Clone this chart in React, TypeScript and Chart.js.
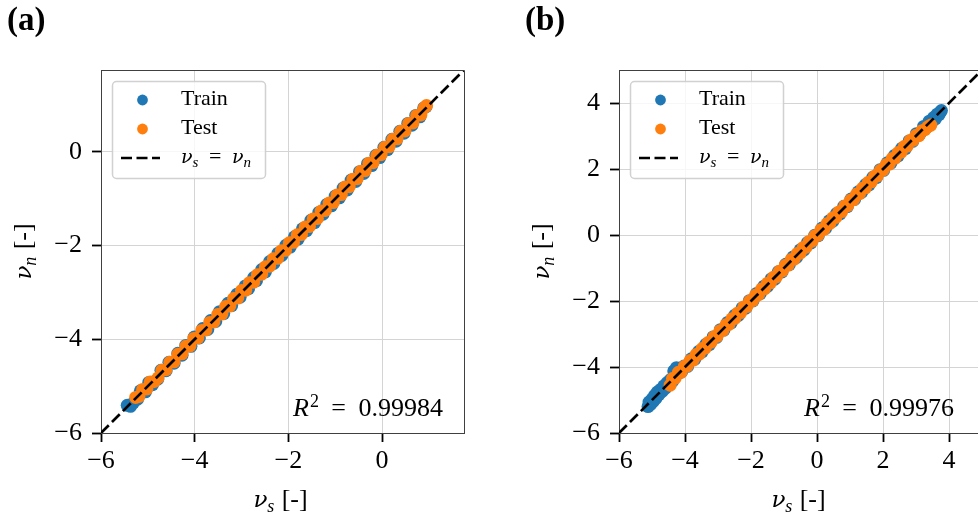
import React, { useEffect, useRef } from "react";
import { Chart, registerables } from "chart.js";

Chart.register(...registerables);

const FONT = '"Liberation Serif", "Times New Roman", serif';
const GREEK_FONT = '"DejaVu Serif", "Liberation Serif", serif';

// ---------------- data: panel (a) ----------------
const trainA: [number, number][] = [
  [-5.44, -5.41], [-5.37, -5.43], [-5.31, -5.36], [-5.22, -5.28], [-5.16, -5.10], [-5.05, -5.12],
  [-4.98, -4.92], [-4.90, -4.97], [-4.79, -4.85], [-4.72, -4.66], [-4.61, -4.67], [-4.55, -4.49],
  [-4.44, -4.51], [-4.36, -4.30], [-4.27, -4.34], [-4.19, -4.13], [-4.08, -4.15], [-4.01, -3.95],
  [-3.90, -3.97], [-3.83, -3.77], [-3.72, -3.79], [-3.66, -3.60], [-3.55, -3.62], [-3.47, -3.41],
  [-3.38, -3.45], [-3.29, -3.23], [-3.21, -3.28], [-3.10, -3.04], [-3.03, -3.10], [-2.92, -2.86],
  [-2.85, -2.92], [-2.74, -2.68], [-2.68, -2.75], [-2.57, -2.51], [-2.49, -2.56], [-2.40, -2.34],
  [-2.31, -2.38], [-2.22, -2.16], [-2.14, -2.21], [-2.05, -1.99], [-1.96, -2.03], [-1.87, -1.81],
  [-1.79, -1.86], [-1.70, -1.64], [-1.61, -1.68], [-1.52, -1.46], [-1.44, -1.51], [-1.35, -1.29],
  [-1.26, -1.33], [-1.18, -1.12], [-1.08, -1.15], [-1.00, -0.94], [-0.91, -0.98], [-0.83, -0.77],
  [-0.74, -0.81], [-0.66, -0.60], [-0.56, -0.63], [-0.48, -0.42], [-0.39, -0.46], [-0.31, -0.25],
  [-0.22, -0.29], [-0.13, -0.07], [-0.05, -0.12], [0.04, 0.10], [0.12, 0.05], [0.21, 0.27],
  [0.30, 0.23], [0.38, 0.44], [0.47, 0.40], [0.55, 0.61], [0.64, 0.57], [0.72, 0.78],
  [0.81, 0.75], [0.89, 0.94], [0.94, 0.97],
];
const testA: [number, number][] = [
  [-5.26, -5.24], [-5.19, -5.22], [-5.11, -5.07], [-5.02, -5.06], [-4.95, -4.91], [-4.86, -4.90],
  [-4.78, -4.82], [-4.70, -4.66], [-4.61, -4.65], [-4.53, -4.49], [-4.44, -4.48], [-4.36, -4.32],
  [-4.27, -4.31], [-4.19, -4.15], [-4.10, -4.14], [-4.02, -3.98], [-3.93, -3.97], [-3.85, -3.81],
  [-3.76, -3.80], [-3.68, -3.64], [-3.59, -3.63], [-3.51, -3.47], [-3.42, -3.46], [-3.34, -3.30],
  [-3.25, -3.29], [-3.17, -3.13], [-3.08, -3.12], [-3.00, -2.96], [-2.91, -2.95], [-2.83, -2.79],
  [-2.74, -2.78], [-2.66, -2.62], [-2.57, -2.61], [-2.49, -2.45], [-2.40, -2.44], [-2.32, -2.28],
  [-2.23, -2.27], [-2.15, -2.11], [-2.06, -2.10], [-1.98, -1.94], [-1.89, -1.93], [-1.81, -1.77],
  [-1.72, -1.76], [-1.64, -1.60], [-1.55, -1.59], [-1.47, -1.43], [-1.38, -1.42], [-1.30, -1.26],
  [-1.21, -1.25], [-1.13, -1.09], [-1.04, -1.08], [-0.96, -0.92], [-0.87, -0.91], [-0.79, -0.75],
  [-0.70, -0.74], [-0.62, -0.58], [-0.53, -0.57], [-0.45, -0.41], [-0.36, -0.40], [-0.28, -0.24],
  [-0.19, -0.23], [-0.11, -0.07], [-0.02, -0.06], [0.06, 0.10], [0.15, 0.11], [0.23, 0.27],
  [0.32, 0.28], [0.40, 0.44], [0.49, 0.45], [0.57, 0.61], [0.66, 0.62], [0.74, 0.78],
  [0.83, 0.79], [0.90, 0.94], [0.95, 0.99],
];
const identityA = [-6, 1.75];
const ticksA = [-6, -4, -2, 0];
const r2A = "0.99984";

// ---------------- data: panel (b) ----------------
const trainB: [number, number][] = [
  [-5.12, -5.20], [-5.09, -5.06], [-5.04, -5.13], [-5.00, -4.97], [-4.96, -5.04], [-4.92, -4.86],
  [-4.88, -4.95], [-4.84, -4.76], [-4.79, -4.84], [-4.74, -4.68], [-4.69, -4.74], [-4.64, -4.57],
  [-4.59, -4.64], [-4.54, -4.47], [-4.49, -4.55], [-4.44, -4.38], [-4.38, -4.44], [-4.34, -4.12],
  [-4.30, -4.30], [-4.26, -4.02], [-4.21, -4.20], [-4.15, -4.08], [-4.10, -4.14],
  [-4.03, -3.97], [-3.92, -3.98], [-3.81, -3.75], [-3.70, -3.76], [-3.59, -3.53], [-3.48, -3.54],
  [-3.37, -3.31], [-3.26, -3.32], [-3.15, -3.09], [-3.04, -3.10], [-2.93, -2.87], [-2.82, -2.88],
  [-2.71, -2.65], [-2.60, -2.66], [-2.49, -2.43], [-2.38, -2.44], [-2.27, -2.21], [-2.16, -2.22],
  [-2.05, -1.99], [-1.94, -2.00], [-1.83, -1.77], [-1.72, -1.78], [-1.61, -1.55], [-1.50, -1.56],
  [-1.39, -1.33], [-1.28, -1.34], [-1.17, -1.11], [-1.06, -1.12], [-0.95, -0.89], [-0.84, -0.90],
  [-0.73, -0.67], [-0.62, -0.68], [-0.51, -0.45], [-0.40, -0.46], [-0.29, -0.23], [-0.18, -0.24],
  [-0.07, -0.01], [0.04, -0.02], [0.15, 0.21], [0.26, 0.20], [0.37, 0.43], [0.48, 0.42],
  [0.59, 0.65], [0.70, 0.64], [0.81, 0.87], [0.92, 0.86], [1.03, 1.09], [1.14, 1.08],
  [1.25, 1.31], [1.36, 1.30], [1.47, 1.53], [1.58, 1.52], [1.69, 1.75], [1.80, 1.74],
  [1.91, 1.98], [2.02, 1.96], [2.13, 2.19], [2.24, 2.18], [2.35, 2.41], [2.46, 2.40],
  [2.57, 2.63], [2.68, 2.62], [2.79, 2.85], [2.90, 2.84], [3.01, 3.07], [3.12, 3.06],
  [3.23, 3.29], [3.32, 3.26], [3.40, 3.45], [3.47, 3.40], [3.53, 3.56], [3.59, 3.52],
  [3.64, 3.66], [3.70, 3.65], [3.74, 3.73], [3.77, 3.77],
];
const testB: [number, number][] = [
  [-4.45, -4.55], [-4.38, -4.35], [-4.30, -4.34], [-4.20, -4.16], [-4.12, -4.16], [-4.02, -3.98],
  [-3.93, -3.97], [-3.84, -3.80], [-3.75, -3.79], [-3.66, -3.62], [-3.57, -3.61], [-3.48, -3.44],
  [-3.39, -3.43], [-3.30, -3.26], [-3.21, -3.25], [-3.12, -3.08], [-3.03, -3.07], [-2.94, -2.90],
  [-2.85, -2.89], [-2.76, -2.72], [-2.67, -2.71], [-2.58, -2.54], [-2.49, -2.53], [-2.40, -2.36],
  [-2.31, -2.35], [-2.22, -2.18], [-2.13, -2.17], [-2.04, -2.00], [-1.95, -1.99], [-1.86, -1.82],
  [-1.77, -1.81], [-1.68, -1.64], [-1.59, -1.63], [-1.50, -1.46], [-1.41, -1.45], [-1.32, -1.28],
  [-1.23, -1.27], [-1.14, -1.10], [-1.05, -1.09], [-0.96, -0.92], [-0.87, -0.91], [-0.78, -0.74],
  [-0.69, -0.73], [-0.60, -0.56], [-0.51, -0.55], [-0.42, -0.38], [-0.33, -0.37], [-0.24, -0.20],
  [-0.15, -0.19], [-0.06, -0.02], [0.03, -0.01], [0.12, 0.16], [0.21, 0.17], [0.30, 0.34],
  [0.39, 0.35], [0.48, 0.52], [0.57, 0.53], [0.66, 0.70], [0.75, 0.71], [0.84, 0.88],
  [0.93, 0.89], [1.02, 1.06], [1.11, 1.07], [1.20, 1.24], [1.29, 1.25], [1.38, 1.42],
  [1.47, 1.43], [1.56, 1.60], [1.65, 1.61], [1.74, 1.78], [1.83, 1.79], [1.92, 1.96],
  [2.01, 1.97], [2.10, 2.14], [2.19, 2.15], [2.28, 2.32], [2.37, 2.33], [2.46, 2.50],
  [2.55, 2.51], [2.64, 2.68], [2.73, 2.69], [2.82, 2.86], [2.91, 2.87], [3.00, 3.02],
  [3.09, 3.01], [3.18, 3.16], [3.27, 3.19], [3.36, 3.28], [3.45, 3.33],
];
const identityB = [-6, 5];
const ticksB = [-6, -4, -2, 0, 2, 4];
const r2B = "0.99976";

// ---------------- labels ----------------
const seriesLabels = ["Train", "Test", "ν_s = ν_n"];
const seriesColors = ["#1f77b4", "#ff7f0e", "#000000"];
const xTitle = "ν_s [-]";
const yTitle = "ν_n [-]";

// ---------------- rich text helpers ----------------
type Seg = { t: string; font: string; dy: number; gapL: number; gapR: number };

function parseMath(label: string, size: number): Seg[] {
  const segs: Seg[] = [];
  const it = `italic ${size}px ${FONT}`;
  const greek = `italic ${Math.round(size * 0.88)}px ${GREEK_FONT}`;
  const rm = `${size}px ${FONT}`;
  const sub = `italic ${Math.round(size * 0.7)}px ${FONT}`;
  const sup = `${Math.round(size * 0.68)}px ${FONT}`;
  let gap = 0;
  let inBracket = false;
  for (let i = 0; i < label.length; i++) {
    const c = label[i];
    if (c === " ") { gap += size * 0.28; continue; }
    if (c === "_") {
      segs.push({ t: label[++i], font: sub, dy: size * 0.2, gapL: gap, gapR: 0 });
      gap = 0; continue;
    }
    if (c === "^") {
      segs.push({ t: label[++i], font: sup, dy: -size * 0.36, gapL: gap + 1, gapR: 0 });
      gap = 0; continue;
    }
    if (c === "[") inBracket = true;
    const isGreek = /[\u03b1-\u03c9]/.test(c);
    const italic = !inBracket && /[A-Za-z]/.test(c);
    const extra = c === "=" ? size * 0.2 : 0;
    segs.push({ t: c, font: isGreek ? greek : italic ? it : rm, dy: 0, gapL: gap + extra, gapR: extra });
    gap = 0;
    if (c === "]") inBracket = false;
  }
  return segs;
}

function drawRich(ctx: CanvasRenderingContext2D, segs: Seg[], x: number, y: number, align: "left" | "center" | "right") {
  let total = 0;
  const widths = segs.map((s) => {
    ctx.font = s.font;
    const w = ctx.measureText(s.t).width;
    total += s.gapL + w + s.gapR;
    return w;
  });
  let cx = align === "left" ? x : align === "center" ? x - total / 2 : x - total;
  ctx.textAlign = "left";
  ctx.textBaseline = "alphabetic";
  segs.forEach((s, i) => {
    cx += s.gapL;
    ctx.font = s.font;
    ctx.fillText(s.t, cx, y + s.dy);
    cx += widths[i] + s.gapR;
  });
}

const fmtTick = (v: number) => (v < 0 ? "\u2212" + Math.abs(v) : String(v));

type PanelCfg = {
  tag: string;
  train: [number, number][];
  test: [number, number][];
  identity: number[];
  ticks: number[];
  max: number;
  r2: string;
  canvasW: number;
  chartLeft: number;
  chartRight: number;
  r2Right: number;
};

function makeDecor(cfg: PanelCfg) {
  return {
    id: "decor",
    afterDatasetsDraw(chart: any) {
      const ctx: CanvasRenderingContext2D = chart.ctx;
      const ca = chart.chartArea;
      ctx.save();
      // top / right spines
      ctx.strokeStyle = "#404040";
      ctx.lineWidth = 1;
      ctx.beginPath();
      ctx.moveTo(Math.round(ca.left) + 0.5, Math.round(ca.top) + 0.5);
      ctx.lineTo(Math.round(ca.right) + 0.5, Math.round(ca.top) + 0.5);
      ctx.lineTo(Math.round(ca.right) + 0.5, Math.round(ca.bottom) + 0.5);
      ctx.stroke();

      // R^2 annotation
      ctx.fillStyle = "#000";
      drawRich(ctx, parseMath("R^2 = " + cfg.r2, 26), ca.right - cfg.r2Right, ca.bottom - 17, "right");

      // legend
      const bx = ca.left + 11, by = ca.top + 11, bw = 153, bh = 97;
      ctx.beginPath();
      (ctx as any).roundRect(bx + 0.5, by + 0.5, bw, bh, 4);
      ctx.fillStyle = "rgba(255,255,255,0.8)";
      ctx.fill();
      ctx.strokeStyle = "rgba(204,204,204,0.9)";
      ctx.lineWidth = 1.5;
      ctx.stroke();
      chart.data.datasets.forEach((ds: any, i: number) => {
        const ry = by + 19 + i * 29;
        if (ds.showLine) {
          ctx.save();
          ctx.strokeStyle = ds.borderColor;
          ctx.lineWidth = ds.borderWidth;
          ctx.setLineDash(ds.borderDash);
          ctx.beginPath();
          ctx.moveTo(bx + 9, ry);
          ctx.lineTo(bx + 48, ry);
          ctx.stroke();
          ctx.restore();
        } else {
          ctx.fillStyle = ds.backgroundColor;
          ctx.beginPath();
          ctx.arc(bx + 30.5, ry, 5.4, 0, Math.PI * 2);
          ctx.fill();
        }
        ctx.fillStyle = "#000";
        if (ds.label.includes("_")) {
          drawRich(ctx, parseMath(ds.label, 22), bx + 69, ry + 5, "left");
        } else {
          ctx.font = `22px ${FONT}`;
          ctx.textAlign = "left";
          ctx.textBaseline = "alphabetic";
          ctx.fillText(ds.label, bx + 69, ry + 5);
        }
      });

      // axis titles
      ctx.fillStyle = "#000";
      drawRich(ctx, parseMath(xTitle, 26), (ca.left + ca.right) / 2 - 2, ca.bottom + 74, "center");
      ctx.save();
      ctx.translate(ca.left - 70, (ca.top + ca.bottom) / 2);
      ctx.rotate(-Math.PI / 2);
      drawRich(ctx, parseMath(yTitle, 26), 0, 0, "center");
      ctx.restore();

      // panel tag
      ctx.font = `bold 33px ${FONT}`;
      ctx.textAlign = "left";
      ctx.textBaseline = "alphabetic";
      ctx.fillText(cfg.tag, ca.left - 94, 30);
      ctx.restore();
    },
  };
}

function axisOpts(ticks: number[], max: number, isX: boolean, cfg: PanelCfg) {
  return {
    type: "linear",
    min: -6,
    max,
    afterBuildTicks: (s: any) => {
      s.ticks = ticks.map((v) => ({ value: v }));
    },
    afterFit: (s: any) => {
      if (isX) s.height = 84;
      else s.width = cfg.chartLeft;
    },
    ticks: {
      callback: (v: any) => fmtTick(Number(v)),
      font: { family: FONT, size: 26 },
      color: "#000",
      padding: isX ? 4 : 10,
      maxRotation: 0,
      autoSkip: false,
    },
    grid: {
      color: "#d4d4d4",
      lineWidth: 1,
      drawTicks: true,
      tickLength: 9,
      tickColor: "#000",
      tickWidth: 1.8,
    },
    border: { color: "#404040", width: 1 },
  };
}

function Panel({ cfg, left }: { cfg: PanelCfg; left: number }) {
  const ref = useRef<HTMLCanvasElement | null>(null);
  useEffect(() => {
    if (!ref.current) return;
    const chart = new Chart(ref.current, {
      type: "scatter",
      data: {
        datasets: [
          {
            label: seriesLabels[0],
            data: cfg.train.map(([x, y]) => ({ x, y })),
            backgroundColor: seriesColors[0],
            pointRadius: 6.5,
            pointBorderWidth: 0,
            order: 2,
          },
          {
            label: seriesLabels[1],
            data: cfg.test.map(([x, y]) => ({ x, y })),
            backgroundColor: seriesColors[1],
            pointRadius: 6.5,
            pointBorderWidth: 0,
            order: 1,
          },
          {
            label: seriesLabels[2],
            data: cfg.identity.map((v) => ({ x: v, y: v })),
            showLine: true,
            borderColor: seriesColors[2],
            borderWidth: 2.7,
            borderDash: [11, 4.5],
            pointRadius: 0,
            order: 0,
          },
        ],
      } as any,
      options: {
        responsive: false,
        animation: false,
        devicePixelRatio: 1,
        events: [],
        layout: { padding: { top: 70, left: 0, bottom: 0, right: cfg.canvasW - cfg.chartRight } },
        plugins: { legend: { display: false }, tooltip: { enabled: false } },
        scales: {
          x: axisOpts(cfg.ticks, cfg.max, true, cfg) as any,
          y: axisOpts(cfg.ticks, cfg.max, false, cfg) as any,
        },
      },
      plugins: [makeDecor(cfg)],
    });
    return () => chart.destroy();
  }, []);
  return (
    <canvas
      ref={ref}
      width={cfg.canvasW}
      height={517}
      style={{ position: "absolute", left, top: 0, width: cfg.canvasW, height: 517, display: "block" }}
    />
  );
}

const panelA: PanelCfg = {
  tag: "(a)", train: trainA, test: testA, identity: identityA, ticks: ticksA, max: 1.75, r2: r2A,
  canvasW: 490, chartLeft: 101, chartRight: 464, r2Right: 21,
};
const panelB: PanelCfg = {
  tag: "(b)", train: trainB, test: testB, identity: identityB, ticks: ticksB, max: 5, r2: r2B,
  canvasW: 530, chartLeft: 129, chartRight: 492, r2Right: 28,
};

export default function App() {
  return (
    <div
      style={{
        position: "absolute", left: 0, top: 0, width: 978, height: 517,
        overflow: "hidden", background: "#fff",
      }}
    >
      <Panel cfg={panelA} left={0} />
      <Panel cfg={panelB} left={490} />
    </div>
  );
}
